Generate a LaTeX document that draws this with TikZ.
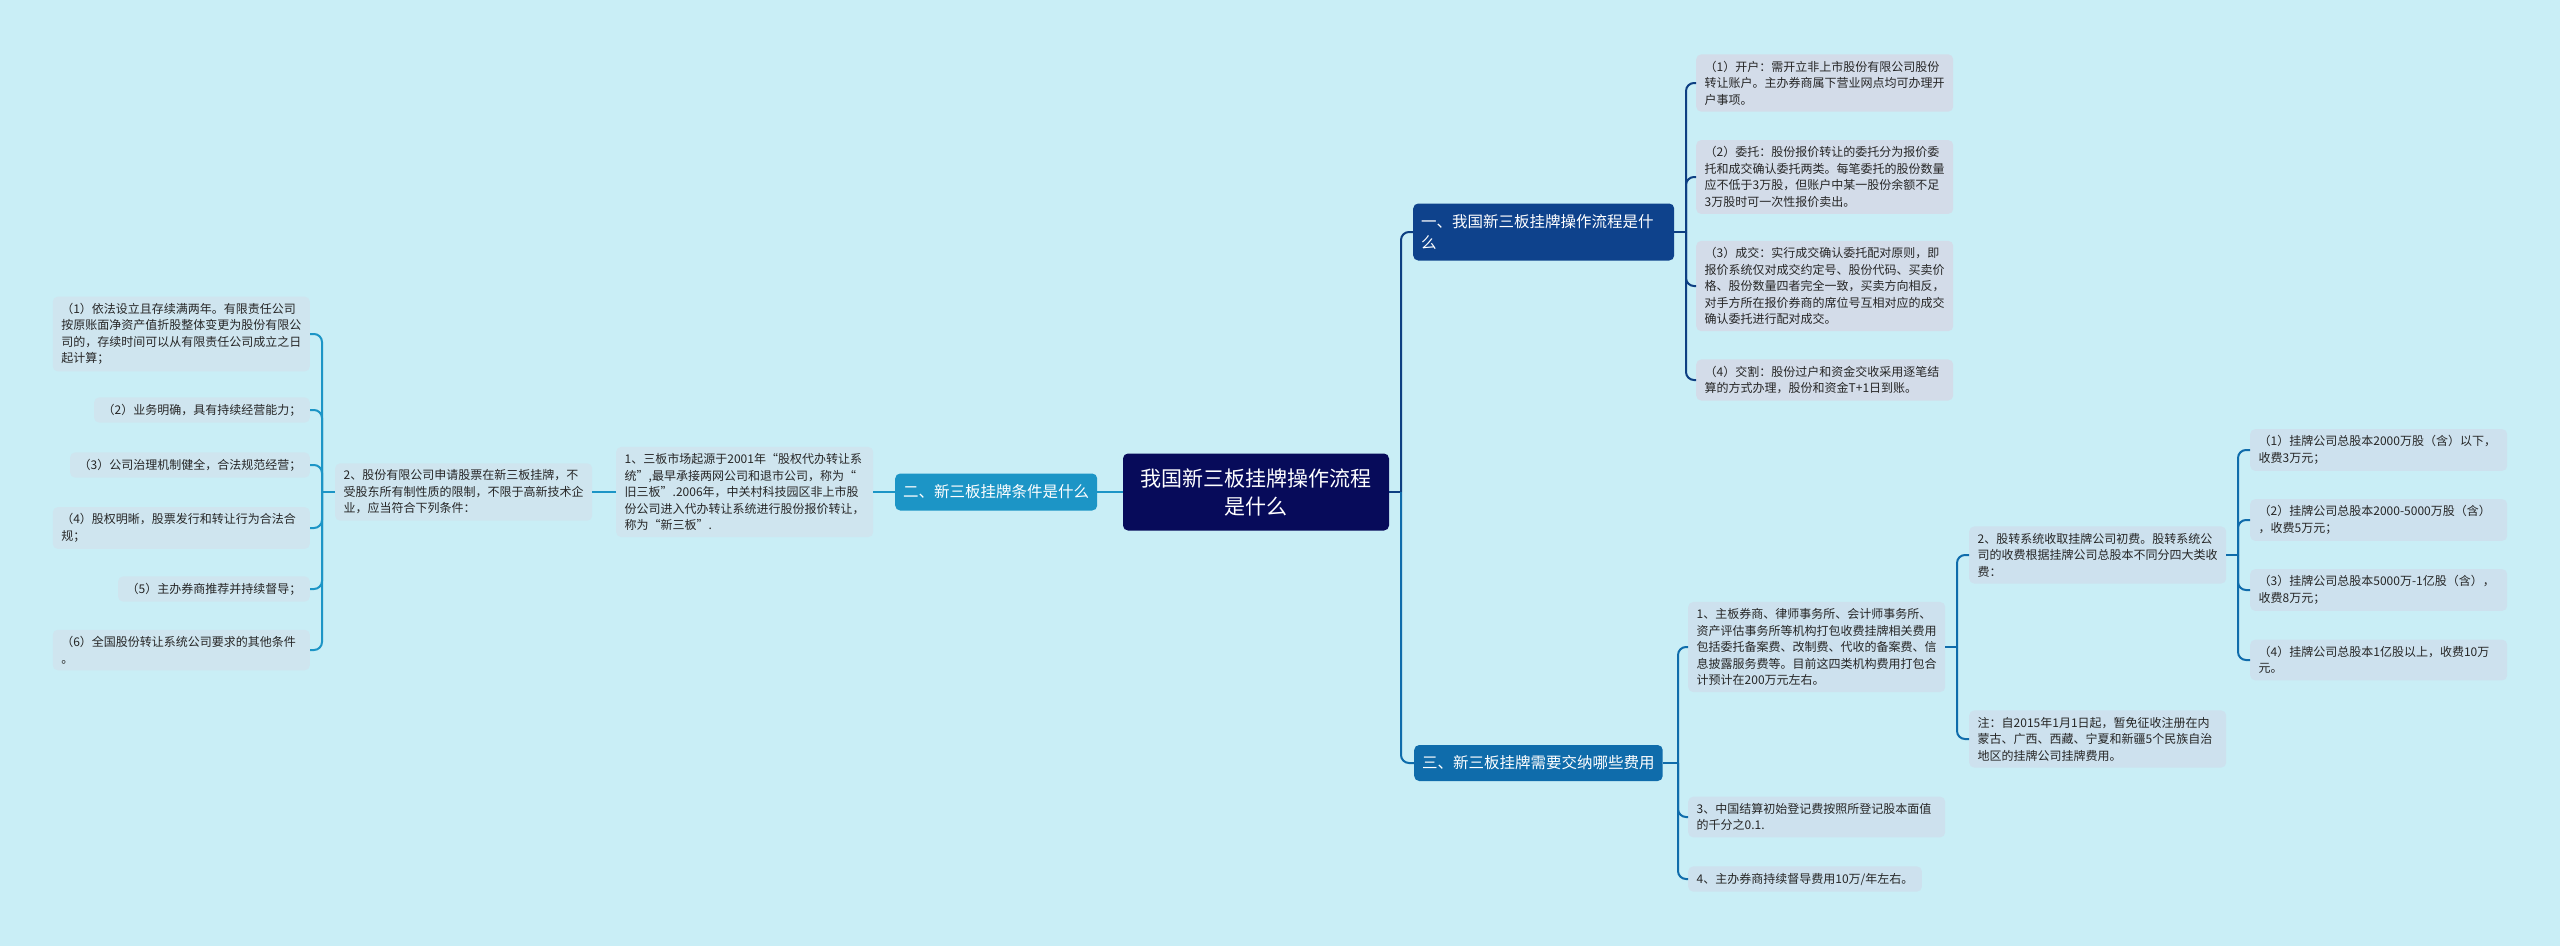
\documentclass[tikz,border=0pt]{standalone}
\usepackage{fontspec}
\setmainfont{Noto Sans CJK SC}
\definecolor{bg}{HTML}{C9EEF6}
\definecolor{rootc}{HTML}{070B5A}
\definecolor{cone}{HTML}{0E428C}
\definecolor{ctwo}{HTML}{1C95C6}
\definecolor{cthree}{HTML}{0F6CAB}
\definecolor{leafone}{HTML}{D3DCE9}
\definecolor{leaftwo}{HTML}{CFE5EF}
\definecolor{leafthree}{HTML}{CDE1EE}
\definecolor{lineone}{HTML}{0D3F82}
\definecolor{txt}{HTML}{262626}
\tikzset{
  leafbox/.style={rounded corners=5pt, inner xsep=8.5pt, inner ysep=6.5pt,
    font=\fontsize{12}{16.5}\selectfont, text=txt, align=left},
  wide/.style={text width=240pt},
  subbox/.style={rounded corners=5pt, text=white, inner xsep=8pt, inner ysep=8pt,
    font=\fontsize{15.5}{20.5}\selectfont, align=left},
  lnone/.style={draw=lineone, line width=2pt, rounded corners=8pt},
  lntwo/.style={draw=ctwo, line width=2pt, rounded corners=8pt},
  lnthree/.style={draw=cthree, line width=2pt, rounded corners=8pt},
}
\begin{document}
\begin{tikzpicture}[x=1pt,y=-1pt]
\fill[bg] (0,0) rectangle (2560,946);
\useasboundingbox (0,0) rectangle (2560,946);

% root
\node[fill=rootc, rounded corners=5pt, text=white, minimum width=266pt, minimum height=77pt,
  font=\fontsize{21}{28}\selectfont, align=center] (root) at (1256,492)
  {我国新三板挂牌操作流程\\是什么};

% main branches
\node[subbox, fill=ctwo, anchor=west, minimum height=37pt] (btwo) at (895,492) {二、新三板挂牌条件是什么};
\node[subbox, fill=cone, anchor=west, text width=245pt, minimum height=57pt] (bone) at (1413,232)
  {一、我国新三板挂牌操作流程是什\\么};
\node[subbox, fill=cthree, anchor=west, minimum height=36pt] (bthree) at (1414,763) {三、新三板挂牌需要交纳哪些费用};

% left side
\node[leafbox, wide, fill=leaftwo, anchor=west] (nb) at (616,492)
  {1、三板市场起源于2001年“股权代办转让系\\统”,最早承接两网公司和退市公司，称为“\\旧三板”.2006年，中关村科技园区非上市股\\份公司进入代办转让系统进行股份报价转让，\\称为“新三板”.};
\node[leafbox, wide, fill=leaftwo, anchor=west] (na) at (335,492)
  {2、股份有限公司申请股票在新三板挂牌，不\\受股东所有制性质的限制，不限于高新技术企\\业，应当符合下列条件：};
\node[leafbox, wide, fill=leaftwo, anchor=east] (la) at (310,334)
  {（1）依法设立且存续满两年。有限责任公司\\按原账面净资产值折股整体变更为股份有限公\\司的，存续时间可以从有限责任公司成立之日\\起计算；};
\node[leafbox, fill=leaftwo, anchor=east] (lb) at (310,410) {（2）业务明确，具有持续经营能力；};
\node[leafbox, fill=leaftwo, anchor=east] (lc) at (310,465) {（3）公司治理机制健全，合法规范经营；};
\node[leafbox, wide, fill=leaftwo, anchor=east] (ld) at (310,528)
  {（4）股权明晰，股票发行和转让行为合法合\\规；};
\node[leafbox, fill=leaftwo, anchor=east] (le) at (310,589) {（5）主办券商推荐并持续督导；};
\node[leafbox, wide, fill=leaftwo, anchor=east] (lf) at (310,650)
  {（6）全国股份转让系统公司要求的其他条件\\。};

% branch one leaves
\node[leafbox, wide, fill=leafone, anchor=west] (oa) at (1696,83)
  {（1）开户：需开立非上市股份有限公司股份\\转让账户。主办券商属下营业网点均可办理开\\户事项。};
\node[leafbox, wide, fill=leafone, anchor=west] (ob) at (1696,177)
  {（2）委托：股份报价转让的委托分为报价委\\托和成交确认委托两类。每笔委托的股份数量\\应不低于3万股，但账户中某一股份余额不足\\3万股时可一次性报价卖出。};
\node[leafbox, wide, fill=leafone, anchor=west] (oc) at (1696,286)
  {（3）成交：实行成交确认委托配对原则，即\\报价系统仅对成交约定号、股份代码、买卖价\\格、股份数量四者完全一致，买卖方向相反，\\对手方所在报价券商的席位号互相对应的成交\\确认委托进行配对成交。};
\node[leafbox, wide, fill=leafone, anchor=west] (od) at (1696,380)
  {（4）交割：股份过户和资金交收采用逐笔结\\算的方式办理，股份和资金T+1日到账。};

% branch three leaves
\node[leafbox, wide, fill=leafthree, anchor=west] (ta) at (1688,647)
  {1、主板券商、律师事务所、会计师事务所、\\资产评估事务所等机构打包收费挂牌相关费用\\包括委托备案费、改制费、代收的备案费、信\\息披露服务费等。目前这四类机构费用打包合\\计预计在200万元左右。};
\node[leafbox, wide, fill=leafthree, anchor=west] (tc) at (1688,817)
  {3、中国结算初始登记费按照所登记股本面值\\的千分之0.1.};
\node[leafbox, fill=leafthree, anchor=west] (td) at (1688,879) {4、主办券商持续督导费用10万/年左右。};
\node[leafbox, wide, fill=leafthree, anchor=west] (tb) at (1969,555)
  {2、股转系统收取挂牌公司初费。股转系统公\\司的收费根据挂牌公司总股本不同分四大类收\\费：};
\node[leafbox, wide, fill=leafthree, anchor=west] (tn) at (1969,739)
  {注：自2015年1月1日起，暂免征收注册在内\\蒙古、广西、西藏、宁夏和新疆5个民族自治\\地区的挂牌公司挂牌费用。};
\node[leafbox, wide, fill=leafthree, anchor=west] (ra) at (2250,450)
  {（1）挂牌公司总股本2000万股（含）以下，\\收费3万元；};
\node[leafbox, wide, fill=leafthree, anchor=west] (rb) at (2250,520)
  {（2）挂牌公司总股本2000-5000万股（含）\\，收费5万元；};
\node[leafbox, wide, fill=leafthree, anchor=west] (rc) at (2250,590)
  {（3）挂牌公司总股本5000万-1亿股（含），\\收费8万元；};
\node[leafbox, wide, fill=leafthree, anchor=west] (rd) at (2250,660)
  {（4）挂牌公司总股本1亿股以上，收费10万\\元。};

% bracket points
\coordinate (kl) at (322,492);
\coordinate (kr) at (1401,492);
\coordinate (kone) at (1686,232);
\coordinate (kthree) at (1678,763);
\coordinate (kta) at (1957,647);
\coordinate (ktb) at (2238,555);

% connectors: left
\draw[lntwo] (root.west) -- (btwo.east);
\draw[lntwo] (btwo.west) -- (nb.east);
\draw[lntwo] (nb.west) -- (na.east);
\draw[lntwo] (na.west) -- (kl);
\foreach \n in {la,lb,lc,ld,le,lf} \draw[lntwo] (kl) |- (\n.east);

% connectors: right
\draw[lnone] (root.east) -- (kr);
\draw[lnone] (kr) |- (bone.west);
\draw[lnthree] (kr) |- (bthree.west);
\draw[lnone] (bone.east) -- (kone);
\foreach \n in {oa,ob,oc,od} \draw[lnone] (kone) |- (\n.west);
\draw[lnthree] (bthree.east) -- (kthree);
\foreach \n in {ta,tc,td} \draw[lnthree] (kthree) |- (\n.west);
\draw[lnthree] (ta.east) -- (kta);
\foreach \n in {tb,tn} \draw[lnthree] (kta) |- (\n.west);
\draw[lnthree] (tb.east) -- (ktb);
\foreach \n in {ra,rb,rc,rd} \draw[lnthree] (ktb) |- (\n.west);
\end{tikzpicture}
\end{document}
